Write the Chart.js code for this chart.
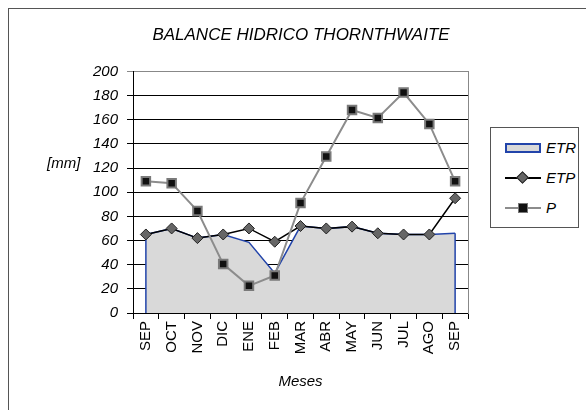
<!DOCTYPE html>
<html>
<head>
<meta charset="utf-8">
<script src="https://cdn.jsdelivr.net/npm/chart.js@4.4.1/dist/chart.umd.min.js"></script>
<style>
  body { margin: 0; width: 586px; height: 410px; overflow: hidden; background: #fff; position: relative; font-family: "Liberation Sans", sans-serif; }
  #frame { position: absolute; left: 8px; top: 8px; width: 640px; height: 460px; border: 1px solid #555; }
  #wrap { position: absolute; left: 0; top: 0; width: 586px; height: 410px; }
  #ylab { position: absolute; left: 47px; top: 154px; font-style: italic; font-size: 15px; color: #000; }
  #legend { position: absolute; left: 490px; top: 127px; width: 87px; height: 99px; border: 1px solid #555; background: #fff; }
  .item { position: absolute; left: 0; width: 87px; height: 20px; }
  .item span { position: absolute; left: 55px; top: 1px; font-style: italic; font-size: 15px; }
  .sw { position: absolute; }
</style>
</head>
<body>
<div id="frame"></div>
<div id="wrap"><canvas id="balance" width="586" height="410"></canvas></div>
<div id="ylab">[mm]</div>
<div id="legend">
  <div class="item" style="top:10px">
    <div class="sw" style="left:14px;top:5px;width:32px;height:6px;background:#d9d9d9;border:2px solid #2244aa"></div>
    <span>ETR</span>
  </div>
  <div class="item" style="top:40px">
    <div class="sw" style="left:14px;top:9px;width:36px;height:2px;background:#000"></div>
    <div class="sw" style="left:27px;top:5px;width:7px;height:7px;background:#666;border:1px solid #222;transform:rotate(45deg)"></div>
    <span>ETP</span>
  </div>
  <div class="item" style="top:70px">
    <div class="sw" style="left:14px;top:9px;width:36px;height:2px;background:#8c8c8c"></div>
    <div class="sw" style="left:27px;top:5px;width:8px;height:8px;background:#111;border:1px solid #777"></div>
    <span>P</span>
  </div>
</div>
<script>
// Datos del balance hidrico
const meses = ['SEP', 'OCT', 'NOV', 'DIC', 'ENE', 'FEB', 'MAR', 'ABR', 'MAY', 'JUN', 'JUL', 'AGO', 'SEP'];
const etr = [65, 70, 62, 65, 58.5, 33, 72, 70, 71.5, 66, 65, 65, 66];
const etp = [65, 70, 62, 65, 70, 59, 72, 70, 71.5, 66, 65, 65, 95];
const precip = [109, 107.5, 84.5, 40.5, 22.5, 31, 91, 129.5, 168, 161.5, 182.5, 156.5, 109];

// bordes verticales del area ETR
const bordes = {
    id: 'bordes',
    afterDatasetDraw(chart, args) {
        if (args.index !== 0) return;
        const ctx = chart.ctx;
        const meta = chart.getDatasetMeta(0);
        const y0 = chart.scales.y.getPixelForValue(0);
        const first = meta.data[0];
        const last = meta.data[meta.data.length - 1];
        ctx.save();
        ctx.strokeStyle = '#2244aa';
        ctx.lineWidth = 1.5;
        ctx.beginPath();
        ctx.moveTo(first.x, first.y);
        ctx.lineTo(first.x, y0);
        ctx.moveTo(last.x, last.y);
        ctx.lineTo(last.x, y0);
        ctx.stroke();
        ctx.restore();
    }
};

const canvas = document.getElementById('balance');
new Chart(canvas, {
    type: 'line',
    data: {
        labels: meses,
        datasets: [
            {
                label: 'ETR',
                data: etr,
                order: 3,
                fill: 'origin',
                backgroundColor: '#d9d9d9',
                borderColor: '#2244aa',
                borderWidth: 1.5,
                pointRadius: 0,
                tension: 0
            },
            {
                label: 'ETP',
                data: etp,
                order: 2,
                borderColor: '#000',
                borderWidth: 1.5,
                pointStyle: 'rectRot',
                pointRadius: 5.5,
                pointBackgroundColor: '#666',
                pointBorderColor: '#222',
                pointBorderWidth: 1,
                tension: 0
            },
            {
                label: 'P',
                data: precip,
                order: 1,
                borderColor: '#8c8c8c',
                borderWidth: 2,
                pointStyle: 'rect',
                pointRadius: 6,
                pointBackgroundColor: '#111',
                pointBorderColor: '#7a7a7a',
                pointBorderWidth: 2,
                tension: 0
            }
        ]
    },
    options: {
        responsive: false,
        animation: false,
        layout: { padding: { left: 16, right: 0, top: 0, bottom: 0 } },
        plugins: {
            legend: { display: false },
            tooltip: { enabled: false },
            title: {
                display: true,
                text: 'BALANCE HIDRICO THORNTHWAITE',
                color: '#000',
                font: { family: 'Liberation Sans', size: 17, style: 'italic', weight: 'normal' },
                padding: { top: 25, bottom: 26 }
            }
        },
        scales: {
            x: {
                offset: true,
                afterFit(scale) { scale.height = 97; },
                grid: { drawOnChartArea: false, offset: true, tickLength: 6, color: '#000' },
                border: { color: '#000', width: 1 },
                ticks: {
                    color: '#000',
                    minRotation: 90,
                    maxRotation: 90,
                    padding: 2,
                    autoSkip: false,
                    font: { family: 'Liberation Sans', size: 15 }
                },
                title: {
                    display: true,
                    text: 'Meses',
                    color: '#000',
                    font: { family: 'Liberation Sans', size: 15, style: 'italic' },
                    padding: { top: 0, bottom: 19 }
                }
            },
            y: {
                min: 0,
                max: 200,
                afterFit(scale) { scale.width = 117; },
                grid: {
                    tickLength: 6,
                    color: (c) => c.tick && c.tick.value === 200 ? '#888' : '#000'
                },
                border: { color: '#000', width: 1 },
                ticks: {
                    stepSize: 20,
                    color: '#000',
                    padding: 9,
                    font: { family: 'Liberation Sans', size: 15, style: 'italic' }
                }
            },
            // eje derecho vacio: solo el borde gris del area de trazado
            y2: {
                position: 'right',
                min: 0,
                max: 200,
                afterFit(scale) { scale.width = 118; },
                grid: { drawOnChartArea: false, drawTicks: false },
                border: { color: '#888', width: 1 },
                ticks: { display: false }
            }
        }
    },
    plugins: [bordes]
});
</script>
</body>
</html>
